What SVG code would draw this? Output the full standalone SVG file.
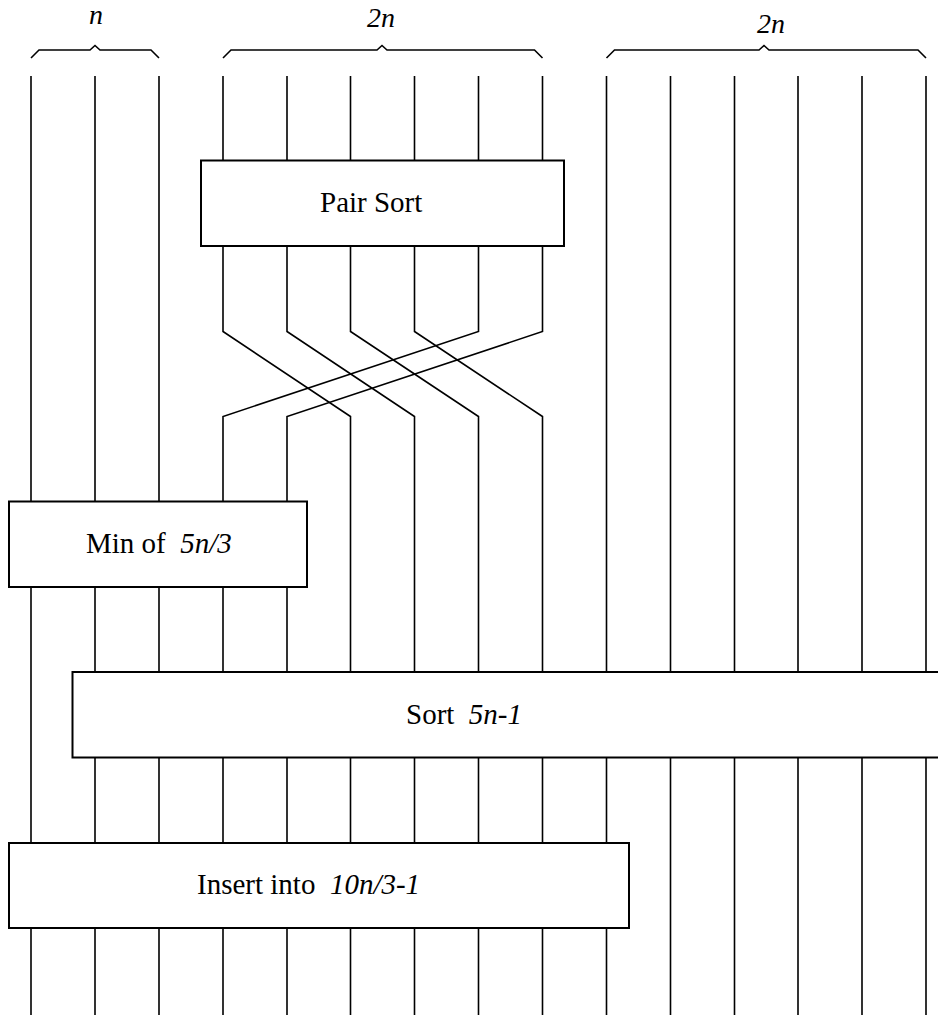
<svg xmlns="http://www.w3.org/2000/svg" width="938" height="1015" viewBox="0 0 938 1015">
  <style>
    .wire { fill: none; stroke: #000; stroke-width: 1.6; stroke-linejoin: miter; }
    .brace { fill: none; stroke: #000; stroke-width: 1.6; }
    .box { fill: #fff; stroke: #000; stroke-width: 2; }
  </style>

  <!-- group-size braces with counts -->
  <g id="braces">
    <path class="brace" d="M31 58 L39 50 L90 50 L95 45.5 L100 50 L151 50 L159 58"/>
    <path class="brace" d="M223 58 L231 50 L377 50 L382 45.5 L387 50 L534.5 50 L542.5 58"/>
    <path class="brace" d="M606.5 58 L614.5 50 L759 50 L764 45.5 L769 50 L918 50 L926 58"/>
    <g font-family="Liberation Serif, Times New Roman, serif" font-style="italic" font-size="28" fill="#000" text-anchor="middle">
      <text x="96" y="24">n</text>
      <text x="381" y="27">2n</text>
      <text x="771" y="33">2n</text>
    </g>
  </g>

  <!-- wires -->
  <g id="wires">
    <!-- first group of n -->
    <path class="wire" d="M31 76 V501.5 M31 587 V843 M31 928 V1015"/>
    <path class="wire" d="M95 76 V501.5 M95 587 V672 M95 757.5 V843 M95 928 V1015"/>
    <path class="wire" d="M159 76 V501.5 M159 587 V672 M159 757.5 V843 M159 928 V1015"/>
    <!-- second group of 2n into pair sort -->
    <path class="wire" d="M223 76 V160.5 M287 76 V160.5 M350.5 76 V160.5 M414.5 76 V160.5 M478.5 76 V160.5 M542.5 76 V160.5"/>
    <!-- pair sort outputs, rerouted -->
    <path class="wire" d="M223 246 V331.5 L350.5 416.5 V672"/>
    <path class="wire" d="M287 246 V331.5 L414.5 416.5 V672"/>
    <path class="wire" d="M350.5 246 V331.5 L478.5 416.5 V672"/>
    <path class="wire" d="M414.5 246 V331.5 L542.5 416.5 V672"/>
    <path class="wire" d="M478.5 246 V331.5 L223 416.5 V501.5"/>
    <path class="wire" d="M542.5 246 V331.5 L287 416.5 V501.5"/>
    <!-- min outputs into sort -->
    <path class="wire" d="M223 587 V672 M287 587 V672"/>
    <!-- third group of 2n -->
    <path class="wire" d="M606.5 76 V672 M670.5 76 V672 M734.5 76 V672 M798 76 V672 M862 76 V672 M926 76 V672"/>
    <!-- sort outputs -->
    <path class="wire" d="M223 757.5 V843 M287 757.5 V843 M350.5 757.5 V843 M414.5 757.5 V843 M478.5 757.5 V843 M542.5 757.5 V843 M606.5 757.5 V843"/>
    <path class="wire" d="M670.5 757.5 V1015 M734.5 757.5 V1015 M798 757.5 V1015 M862 757.5 V1015 M926 757.5 V1015"/>
    <!-- insert outputs -->
    <path class="wire" d="M223 928 V1015 M287 928 V1015 M350.5 928 V1015 M414.5 928 V1015 M478.5 928 V1015 M542.5 928 V1015 M606.5 928 V1015"/>
  </g>

  <g id="pair-sort">
    <rect class="box" x="201" y="160.5" width="363" height="85.5"/>
    <text x="320" y="212" font-family="Liberation Serif, Times New Roman, serif" font-size="29" fill="#000">Pair Sort</text>
  </g>

  <g id="min-of">
    <rect class="box" x="9" y="501.5" width="298" height="85.5"/>
    <text x="86" y="553" font-family="Liberation Serif, Times New Roman, serif" font-size="29" fill="#000">Min of<tspan font-style="italic" dx="14.5">5n/3</tspan></text>
  </g>

  <g id="sort">
    <rect class="box" x="72.5" y="672" width="880" height="85.5"/>
    <text x="406" y="724" font-family="Liberation Serif, Times New Roman, serif" font-size="29" fill="#000">Sort<tspan font-style="italic" dx="14.5">5n-1</tspan></text>
  </g>

  <g id="insert-into">
    <rect class="box" x="9" y="843" width="620" height="85"/>
    <text x="197" y="894" font-family="Liberation Serif, Times New Roman, serif" font-size="29" fill="#000">Insert into<tspan font-style="italic" dx="14.5">10n/3-1</tspan></text>
  </g>
</svg>
